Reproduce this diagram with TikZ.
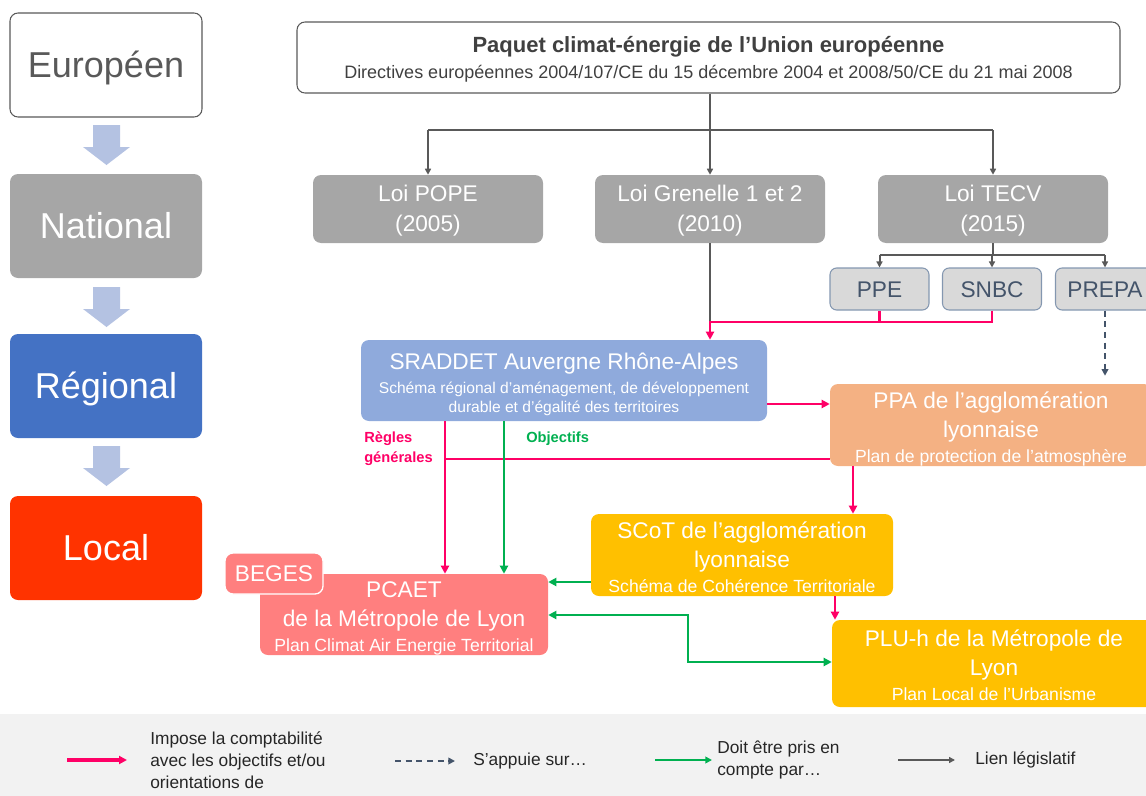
\documentclass[tikz,border=0pt]{standalone}
\usepackage{fontspec}
\setmainfont{Liberation Sans}
\usetikzlibrary{arrows.meta}

\definecolor{grayc}{HTML}{595959}
\definecolor{txtgray}{HTML}{404040}
\definecolor{lvlgray}{HTML}{A6A6A6}
\definecolor{lvlblue}{HTML}{4472C4}
\definecolor{lvlred}{HTML}{FF3300}
\definecolor{arrblue}{HTML}{B4C2E2}
\definecolor{subfill}{HTML}{D9D9D9}
\definecolor{subdraw}{HTML}{8497B0}
\definecolor{subtext}{HTML}{44546A}
\definecolor{sradfill}{HTML}{8FAADC}
\definecolor{ppafill}{HTML}{F4B183}
\definecolor{scotfill}{HTML}{FFC000}
\definecolor{pcaetfill}{HTML}{FF7F7F}
\definecolor{pinkc}{HTML}{FF0066}
\definecolor{greenc}{HTML}{00B050}
\definecolor{legbg}{HTML}{F2F2F2}
\definecolor{legtext}{HTML}{262626}

\newcommand\ttlfont{\fontsize{17pt}{22pt}\selectfont}
\newcommand\subfont{\fontsize{13.2pt}{16pt}\selectfont}

\tikzset{
  pbox/.style 2 args={rectangle, rounded corners=6pt, inner sep=0pt, align=center,
    text depth=0pt, minimum width=#1*0.75pt, minimum height=#2*0.75pt},
  lvl/.style={pbox={192}{104}, text=white, text height=19.3pt, font=\fontsize{27pt}{32pt}\selectfont},
  loi/.style={pbox={230}{68}, fill=lvlgray, text=white, text height=34.4pt, font=\fontsize{17pt}{22.5pt}\selectfont},
  sub/.style={pbox={99}{42}, rounded corners=5pt, fill=subfill, draw=subdraw, line width=0.8pt,
    text=subtext, text height=12.2pt, font=\ttlfont},
  plan/.style={text=white, text height=55.5pt, font=\ttlfont},
  lnk/.style={draw=grayc, line width=1.5pt},
  lnkarr/.style={lnk, -{Triangle[length=4.5pt,width=4.5pt]}},
  imp/.style={draw=pinkc, line width=2.2pt},
  imparr/.style={imp, -{Triangle[length=6pt,width=6pt]}},
  obj/.style={draw=greenc, line width=2.2pt, -{Triangle[length=6pt,width=6pt]}},
  dep/.style={draw=subtext, line width=1.5pt, dash pattern=on 4.5pt off 3.5pt,
    -{Triangle[length=5pt,width=5pt]}},
  legtxt/.style={anchor=west, align=left, inner sep=0pt, text=legtext,
    font=\fontsize{13pt}{16.5pt}\selectfont}
}

\begin{document}
\begin{tikzpicture}[x=0.75pt,y=-0.75pt]
\useasboundingbox (0,0) rectangle (1146,796);

\node[lvl, fill=white, draw=grayc, line width=0.8pt, text=grayc] (eur) at (106,65) {Européen};
\node[lvl, fill=lvlgray] (nat) at (106,226) {National};
\node[lvl, fill=lvlblue] (reg) at (106,386) {Régional};
\node[lvl, fill=lvlred] (loc) at (106,548) {Local};

\foreach \y in {125,287,446}
  \fill[arrblue] (93,\y) -- (120,\y) -- (120,\y+22) -- (130,\y+22) -- (106.5,\y+40)
    -- (83,\y+22) -- (93,\y+22) -- cycle;

\node[pbox={823}{71}, draw=grayc, line width=0.8pt, text=txtgray, text height=30.8pt,
  font=\fontsize{13.5pt}{19pt}\selectfont] (paq) at (708.5,57.5)
  {\bfseries\fontsize{16.5pt}{20pt}\selectfont Paquet climat-énergie de l’Union européenne\\
   Directives européennes 2004/107/CE du 15 décembre 2004 et 2008/50/CE du 21 mai 2008};

\node[loi] (pope) at (428,209) {Loi POPE\\(2005)};
\node[loi] (gren) at (710,209) {Loi Grenelle 1 et 2\\(2010)};
\node[loi] (tecv) at (993,209) {Loi TECV\\(2015)};

\coordinate (lg) at (710,130);
\draw[lnkarr] (paq.south -| gren) -- (gren.north);
\draw[lnk] (lg -| pope) -- (lg -| tecv);
\draw[lnkarr] (lg -| pope) -- (pope.north);
\draw[lnkarr] (lg -| tecv) -- (tecv.north);

\node[sub] (ppe) at (879.5,289) {PPE};
\node[sub] (snbc) at (992,289) {SNBC};
\node[sub] (prepa) at (1105,289) {PREPA};

\coordinate (tg) at (993,255);
\draw[lnk] (tecv.south) -- (tg);
\draw[lnk] (tg -| ppe) -- (tg -| prepa);
\draw[lnkarr] (tg -| ppe) -- (ppe.north);
\draw[lnkarr] (tg -| snbc) -- (snbc.north);
\draw[lnkarr] (tg -| prepa) -- (prepa.north);

\node[pbox={406}{81}, fill=sradfill, text=white, text height=47.5pt,
  font=\fontsize{11.7pt}{14.25pt}\selectfont] (srad) at (564,380.5)
  {\ttlfont SRADDET Auvergne Rhône-Alpes\\[3.35pt]
   Schéma régional d’aménagement, de développement\\durable et d’égalité des territoires};

\node[pbox={322}{82}, fill=ppafill, plan] (ppa) at (991,425)
  {PPA de l’agglomération\\lyonnaise\\[-3.5pt]\subfont Plan de protection de l’atmosphère};

\node[pbox={302}{82}, fill=scotfill, plan] (scot) at (742,555)
  {SCoT de l’agglomération\\lyonnaise\\[-3.5pt]\subfont Schéma de Cohérence Territoriale};

\node[pbox={288}{81}, fill=pcaetfill, plan] (pcaet) at (404,614.5)
  {PCAET\\de la Métropole de Lyon\\[-3.5pt]\subfont Plan Climat Air Energie Territorial};
\node[pbox={98}{41}, fill=pcaetfill, draw=white, line width=1pt, text=white, text height=12.2pt,
  font=\ttlfont] (beges) at (274,573.5) {BEGES};

\node[pbox={324}{87}, fill=scotfill, plan] (plu) at (994,663.5)
  {PLU-h de la Métropole de\\Lyon\\[-3.5pt]\subfont Plan Local de l’Urbanisme};

\coordinate (pk) at (710,322);
\draw[lnk] (gren.south) -- (pk);
\draw[imparr] (snbc.south) -- (snbc.south |- pk) -- (pk) -- (srad.north -| pk);
\draw[imp] (ppe.south) -- (ppe.south |- pk);
\draw[dep] (prepa.south) -- ([yshift=6pt]ppa.north -| prepa);

\coordinate (sp) at (767,404);
\draw[imparr] (srad.east |- sp) -- (ppa.west |- sp);

\coordinate (rg) at (445,459);
\coordinate (og) at (504,459);
\draw[imp] (ppa.west |- rg) -- (rg);
\draw[imparr] (srad.south -| rg) -- (pcaet.north -| rg);
\draw[obj] (srad.south -| og) -- (pcaet.north -| og);

\node[anchor=west, align=left, inner sep=0pt, text=pinkc, font=\bfseries\fontsize{11pt}{15pt}\selectfont]
  (regles) at (364,449) {Règles\\générales};
\node[anchor=west, inner sep=0pt, text=greenc, font=\bfseries\fontsize{11pt}{15pt}\selectfont]
  (objectifs) at (526,439) {Objectifs};

\coordinate (ps) at (853,480);
\draw[imparr] (ppa.south -| ps) -- (scot.north -| ps);
\coordinate (sc) at (835,582);
\draw[obj] (scot.west |- sc) -- (pcaet.east |- sc);
\draw[imparr] (scot.south -| sc) -- (plu.north -| sc);

\coordinate (gb) at (688,615);
\coordinate (gc) at (688,662);
\draw[obj, {Triangle[length=6pt,width=6pt]}-{Triangle[length=6pt,width=6pt]}]
  (pcaet.east |- gb) -- (gb) -- (gc) -- (plu.west |- gc);

\fill[legbg] (0,714) rectangle (1146,796);

\coordinate (l1a) at (67,760);
\coordinate (l1b) at (127,760);
\coordinate (l2a) at (395,761);
\coordinate (l2b) at (455,761);
\coordinate (l3a) at (655,760);
\coordinate (l3b) at (712,760);
\coordinate (l4a) at (898,760);
\coordinate (l4b) at (955,760);
\draw[imparr, line width=2.6pt] (l1a) -- (l1b);
\draw[dep] (l2a) -- (l2b);
\draw[obj, line width=1.6pt, -{Triangle[length=5pt,width=5pt]}] (l3a) -- (l3b);
\draw[lnkarr] (l4a) -- (l4b);

\node[legtxt] (legimp) at (150,760) {Impose la comptabilité\\avec les objectifs et/ou\\orientations de};
\node[legtxt] (legdep) at (473,761) {S’appuie sur…};
\node[legtxt] (legobj) at (717,760) {Doit être pris en\\compte par…};
\node[legtxt] (leglnk) at (975,760) {Lien législatif};
\end{tikzpicture}
\end{document}
